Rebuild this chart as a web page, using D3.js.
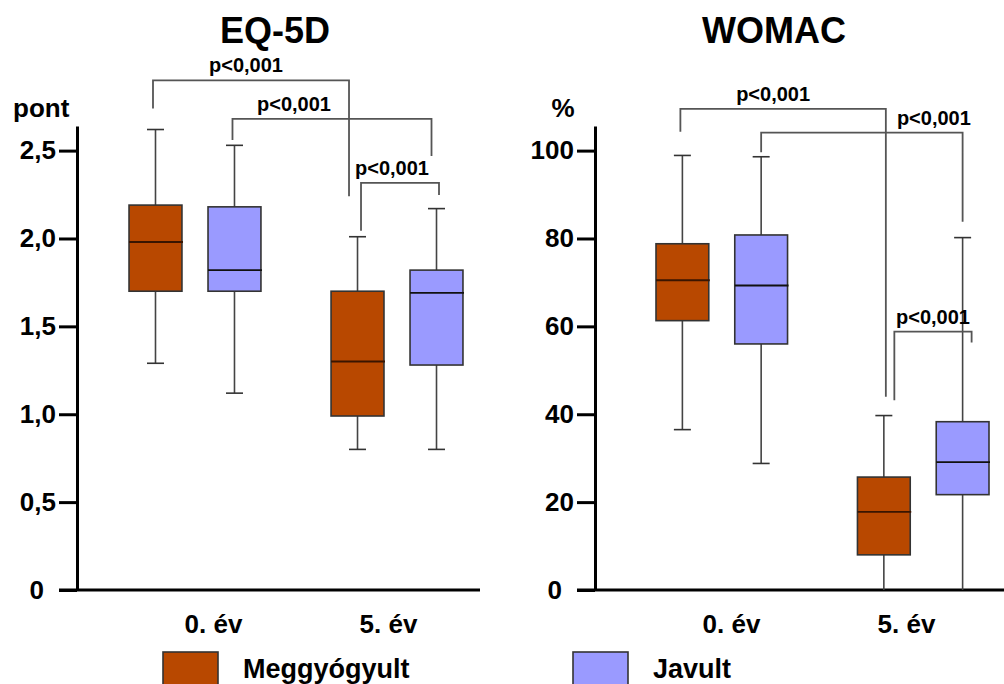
<!DOCTYPE html>
<html>
<head>
<meta charset="utf-8">
<script src="https://cdn.jsdelivr.net/npm/d3@7"></script>
<style>
    body { margin: 0; background: #fff; }
    text { font-family: "Liberation Sans", Arial, sans-serif; font-weight: bold; fill: #000; }
</style>
</head>
<body>
<svg id="chart" width="1004" height="684"></svg>
<script>
const GROUPS = ["0. év", "5. év"];
const SERIES = ["Meggyógyult", "Javult"];
const SERIES_COLOURS = ["#b84800", "#9a9aff"];

// box order: 0. év Meggyógyult, 0. év Javult, 5. év Meggyógyult, 5. év Javult
const EQ5D_MIN = [1.29, 1.12, 0.80, 0.80];
const EQ5D_Q1 = [1.70, 1.70, 0.99, 1.28];
const EQ5D_MEDIAN = [1.98, 1.82, 1.30, 1.69];
const EQ5D_Q3 = [2.19, 2.18, 1.70, 1.82];
const EQ5D_MAX = [2.62, 2.53, 2.01, 2.17];
const EQ5D_TICKS = [0, 0.5, 1, 1.5, 2, 2.5];
const EQ5D_TICK_LABELS = ["0", "0,5", "1,0", "1,5", "2,0", "2,5"];

const WOMAC_MIN = [36.5, 28.8, 0, 0];
const WOMAC_Q1 = [61.3, 56.0, 8.0, 21.7];
const WOMAC_MEDIAN = [70.5, 69.3, 17.8, 29.1];
const WOMAC_Q3 = [78.8, 80.8, 25.7, 38.3];
const WOMAC_MAX = [98.9, 98.6, 39.7, 80.2];
const WOMAC_TICKS = [0, 20, 40, 60, 80, 100];
const WOMAC_TICK_LABELS = ["0", "20", "40", "60", "80", "100"];

const P_LABEL = "p<0,001";

const BOTTOM = 590, TOP = 126;

function buildBoxes(min, q1, med, q3, max) {
    let boxes = [];
    for (let i = 0; i < min.length; i++) {
        boxes.push({
            group: GROUPS[Math.floor(i / SERIES.length)],
            series: i % SERIES.length,
            min: min[i], q1: q1[i], median: med[i], q3: q3[i], max: max[i]
        });
    }
    return boxes;
}

const panels = [
    {
        title: "EQ-5D", titleX: 275, unit: "pont", unitX: 13, unitAnchor: "start",
        axisX: 77, xEnd: 480, groupRange: [116, 476], yMax: 2.64,
        ticks: EQ5D_TICKS, tickLabels: EQ5D_TICK_LABELS,
        boxes: buildBoxes(EQ5D_MIN, EQ5D_Q1, EQ5D_MEDIAN, EQ5D_Q3, EQ5D_MAX),
        // bracket layout: box indices, bar level, leg ends, leg x nudges, label nudge
        brackets: [
            { a: 0, b: 2, bar: 2.90, legA: 2.74, legB: 2.24, dxA: -2.5, dxB: -8.5, dl: -5 },
            { a: 1, b: 3, bar: 2.68, legA: 2.56, legB: 2.47, dxA: -2, dxB: -5, dl: -38 },
            { a: 2, b: 3, bar: 2.316, legA: 2.044, legB: 2.247, dxA: 3.5, dxB: 2.5, dl: -8 }
        ]
    },
    {
        title: "WOMAC", titleX: 774, unit: "%", unitX: 563, unitAnchor: "middle",
        axisX: 595, xEnd: 1004, groupRange: [643, 1002], yMax: 105.6,
        ticks: WOMAC_TICKS, tickLabels: WOMAC_TICK_LABELS,
        boxes: buildBoxes(WOMAC_MIN, WOMAC_Q1, WOMAC_MEDIAN, WOMAC_Q3, WOMAC_MAX),
        brackets: [
            { a: 0, b: 2, bar: 109.5, legA: 104.3, legB: 44.0, dxA: -2, dxB: 2, dl: -10 },
            { a: 1, b: 3, bar: 104.1, legA: 99.6, legB: 83.8, dxA: 0, dxB: 0, dl: 72 },
            { a: 2, b: 3, bar: 58.8, legA: 43.2, legB: 56.3, dxA: 10.5, dxB: 9, dl: 0 }
        ]
    }
];

const svg = d3.select("#chart");

function drawPanel(cfg) {
    let g = svg.append("g");

    let y = d3.scaleLinear().domain([0, cfg.yMax]).range([BOTTOM, TOP]);
    let xg = d3.scaleBand().domain(GROUPS).range(cfg.groupRange).paddingInner(0.218);
    let xs = d3.scaleBand().domain(d3.range(SERIES.length)).range([0, xg.bandwidth()])
        .paddingInner(0.33).paddingOuter(0.165);
    let xLabel = d3.scalePoint().domain(GROUPS).range([cfg.axisX + 136, cfg.axisX + 311]);
    let cx = d => xg(d.group) + xs(d.series) + xs.bandwidth() / 2;
    let w = xs.bandwidth();

    // title + unit
    g.append("text").attr("x", cfg.titleX).attr("y", 43)
        .attr("text-anchor", "middle").attr("font-size", 36).text(cfg.title);
    g.append("text").attr("x", cfg.unitX).attr("y", 117)
        .attr("text-anchor", cfg.unitAnchor).attr("font-size", 26).text(cfg.unit);

    // y axis
    let yAxis = g.append("g")
        .attr("transform", `translate(${cfg.axisX},0)`)
        .call(d3.axisLeft(y).tickValues(cfg.ticks).tickSize(18).tickSizeOuter(0).tickPadding(3)
            .tickFormat((d, i) => cfg.tickLabels[i]));
    yAxis.select(".domain").attr("stroke", "#000").attr("stroke-width", 3);
    yAxis.selectAll(".tick line").attr("stroke", "#000").attr("stroke-width", 3);
    yAxis.selectAll(".tick text").attr("font-size", 26).attr("fill", "#000")
        .attr("font-family", null)
        .attr("dx", d => d === 0 ? -12 : 0);

    // x axis line
    g.append("line")
        .attr("x1", cfg.axisX - 18).attr("x2", cfg.xEnd)
        .attr("y1", y(0)).attr("y2", y(0))
        .attr("stroke", "#000").attr("stroke-width", 3);

    let xAxis = g.append("g")
        .attr("transform", `translate(0,${BOTTOM})`)
        .call(d3.axisBottom(xLabel).tickSize(0).tickPadding(25));
    xAxis.select(".domain").remove();
    xAxis.selectAll(".tick text").attr("font-size", 26).attr("fill", "#000").attr("font-family", null);

    // boxes
    let boxes = g.selectAll(".box").data(cfg.boxes).enter().append("g").attr("class", "box");

    boxes.append("line")
        .attr("x1", cx).attr("x2", cx)
        .attr("y1", d => y(d.q3)).attr("y2", d => y(d.max))
        .attr("stroke", "#444").attr("stroke-width", 1.6);
    boxes.append("line")
        .attr("x1", cx).attr("x2", cx)
        .attr("y1", d => y(d.q1)).attr("y2", d => y(d.min))
        .attr("stroke", "#444").attr("stroke-width", 1.6);
    ["max", "min"].forEach(k =>
        boxes.filter(d => d[k] > 0).append("line")
            .attr("x1", d => cx(d) - 8.5).attr("x2", d => cx(d) + 8.5)
            .attr("y1", d => y(d[k])).attr("y2", d => y(d[k]))
            .attr("stroke", "#333").attr("stroke-width", 1.6)
    );

    boxes.append("rect")
        .attr("x", d => cx(d) - w / 2)
        .attr("y", d => y(d.q3))
        .attr("width", w)
        .attr("height", d => y(d.q1) - y(d.q3))
        .attr("fill", d => SERIES_COLOURS[d.series])
        .attr("stroke", "#333").attr("stroke-width", 1.6);

    boxes.append("line")
        .attr("x1", d => cx(d) - w / 2).attr("x2", d => cx(d) + w / 2 + 1)
        .attr("y1", d => y(d.median)).attr("y2", d => y(d.median))
        .attr("stroke", d => d.series === 0 ? "#3a1500" : "#111").attr("stroke-width", 1.8);

    // significance brackets
    cfg.brackets.forEach(b => {
        let xa = cx(cfg.boxes[b.a]) + b.dxA;
        let xb = cx(cfg.boxes[b.b]) + b.dxB;
        g.append("path")
            .attr("d", `M${xa},${y(b.legA)}V${y(b.bar)}H${xb}V${y(b.legB)}`)
            .attr("fill", "none").attr("stroke", "#555").attr("stroke-width", 1.8);
        g.append("text")
            .attr("x", (xa + xb) / 2 + b.dl)
            .attr("y", y(b.bar) - 8)
            .attr("text-anchor", "middle").attr("font-size", 20)
            .text(P_LABEL);
    });
}

panels.forEach(drawPanel);

// legend
const legendX = [163, 573];
SERIES.forEach((s, i) => {
    svg.append("rect")
        .attr("x", legendX[i]).attr("y", 652)
        .attr("width", 55).attr("height", 50)
        .attr("fill", SERIES_COLOURS[i])
        .attr("stroke", "#333").attr("stroke-width", 1.6);
    svg.append("text")
        .attr("x", legendX[i] + 80).attr("y", 678)
        .attr("font-size", 27)
        .text(s);
});
</script>
</body>
</html>
